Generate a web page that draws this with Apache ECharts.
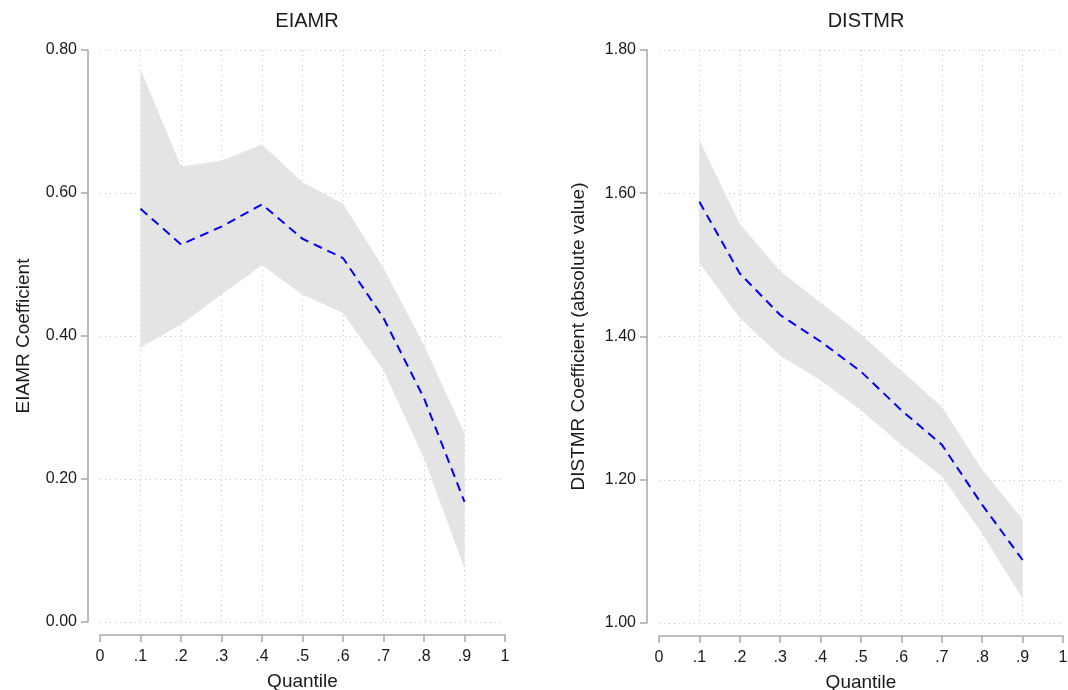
<!DOCTYPE html>
<html>
<head>
<meta charset="utf-8">
<script src="https://cdn.jsdelivr.net/npm/echarts@6/dist/echarts.min.js"></script>
<style>
html,body{margin:0;padding:0;background:#fff;}
#chart{width:1068px;height:690px;}
</style>
</head>
<body>
<div id="chart"></div>
<script>
// Quantiles
const quantiles = [0.1, 0.2, 0.3, 0.4, 0.5, 0.6, 0.7, 0.8, 0.9];
const xTickLabels = ['0', '.1', '.2', '.3', '.4', '.5', '.6', '.7', '.8', '.9', '1'];

// EIAMR panel
const eiamrCoef  = [0.578, 0.528, 0.553, 0.584, 0.536, 0.509, 0.425, 0.313, 0.168];
const eiamrUpper = [0.773, 0.637, 0.645, 0.668, 0.615, 0.585, 0.495, 0.387, 0.264];
const eiamrLower = [0.384, 0.416, 0.458, 0.499, 0.458, 0.432, 0.352, 0.229, 0.075];

// DISTMR panel (absolute value)
const distmrCoef  = [1.588, 1.488, 1.430, 1.393, 1.351, 1.297, 1.249, 1.165, 1.088];
const distmrUpper = [1.674, 1.557, 1.491, 1.447, 1.403, 1.352, 1.302, 1.214, 1.145];
const distmrLower = [1.503, 1.426, 1.373, 1.339, 1.297, 1.249, 1.205, 1.125, 1.034];

const FONT = 'Liberation Sans, Arial, sans-serif';
const TXT = '#1a1a1a';
const AXC = '#a6a6a6';
const GRIDC = '#c4c4c4';
const BAND = '#e4e4e4';

function pairs(xs, ys) { return xs.map((x, i) => [x, ys[i]]); }

function xAxisFor(gi) {
  return {
    type: 'value', gridIndex: gi, min: 0, max: 1, interval: 0.1,
    offset: 13,
    name: 'Quantile', nameLocation: 'middle', nameGap: 37,
    nameTextStyle: { fontFamily: FONT, fontSize: 19, color: TXT },
    axisLine: { show: true, onZero: false, lineStyle: { color: AXC, width: 1.5 } },
    axisTick: { show: true, length: 7, lineStyle: { color: AXC, width: 1.5 } },
    axisLabel: { fontFamily: FONT, fontSize: 16, color: TXT, margin: 14,
      formatter: v => xTickLabels[Math.round(v * 10)] },
    splitLine: { show: true, showMinLine: false, showMaxLine: false,
      lineStyle: { color: GRIDC, width: 1, type: [1, 4] } }
  };
}

function yAxisFor(gi, min, max, name, gap) {
  return {
    type: 'value', gridIndex: gi, min: min, max: max, interval: 0.2,
    offset: 12,
    name: name, nameLocation: 'middle', nameGap: gap, nameRotate: 90,
    nameTextStyle: { fontFamily: FONT, fontSize: 19, color: TXT },
    axisLine: { show: true, onZero: false, lineStyle: { color: AXC, width: 1.5 } },
    axisTick: { show: true, length: 7, lineStyle: { color: AXC, width: 1.5 } },
    axisLabel: { fontFamily: FONT, fontSize: 16, color: TXT, margin: 11,
      formatter: v => v.toFixed(2) },
    splitLine: { show: true, lineStyle: { color: GRIDC, width: 1, type: [1, 4] } }
  };
}

function panelSeries(gi, coef, upper, lower) {
  const bandData = quantiles.map((q, i) => [q, lower[i], upper[i]]);
  return [
    { type: 'custom', xAxisIndex: gi, yAxisIndex: gi, data: bandData, silent: true, z: 2,
      renderItem: function (params, api) {
        if (params.dataIndex !== 0) return null;
        const top = [], bot = [];
        for (let i = 0; i < bandData.length; i++) {
          top.push(api.coord([bandData[i][0], bandData[i][2]]));
          bot.push(api.coord([bandData[i][0], bandData[i][1]]));
        }
        const pts = top.concat(bot.reverse());
        return { type: 'polygon', shape: { points: pts }, style: { fill: BAND, stroke: null } };
      },
      encode: { x: 0, y: [1, 2] } },
    { type: 'line', xAxisIndex: gi, yAxisIndex: gi, data: pairs(quantiles, coef),
      symbol: 'none', lineStyle: { color: '#0000ff', width: 2, type: [9, 6] }, z: 3 }
  ];
}

const chart = echarts.init(document.getElementById('chart'), null, { renderer: 'canvas' });
chart.setOption({
  backgroundColor: '#ffffff',
  animation: false,
  title: [
    { text: 'EIAMR', left: 302, top: 6, textAlign: 'center',
      textStyle: { fontFamily: FONT, fontSize: 20, fontWeight: 'normal', color: TXT } },
    { text: 'DISTMR', left: 861, top: 6, textAlign: 'center',
      textStyle: { fontFamily: FONT, fontSize: 20, fontWeight: 'normal', color: TXT } }
  ],
  grid: [
    { left: 100, top: 50, width: 405, height: 572, outerBoundsMode: 'none', containLabel: false },
    { left: 659, top: 50, width: 404, height: 573, outerBoundsMode: 'none', containLabel: false }
  ],
  xAxis: [xAxisFor(0), xAxisFor(1)],
  yAxis: [
    yAxisFor(0, 0, 0.8, 'EIAMR Coefficient', 55),
    yAxisFor(1, 1.0, 1.8, 'DISTMR Coefficient (absolute value)', 59)
  ],
  series: [
    ...panelSeries(0, eiamrCoef, eiamrUpper, eiamrLower),
    ...panelSeries(1, distmrCoef, distmrUpper, distmrLower)
  ]
});
</script>
</body>
</html>
